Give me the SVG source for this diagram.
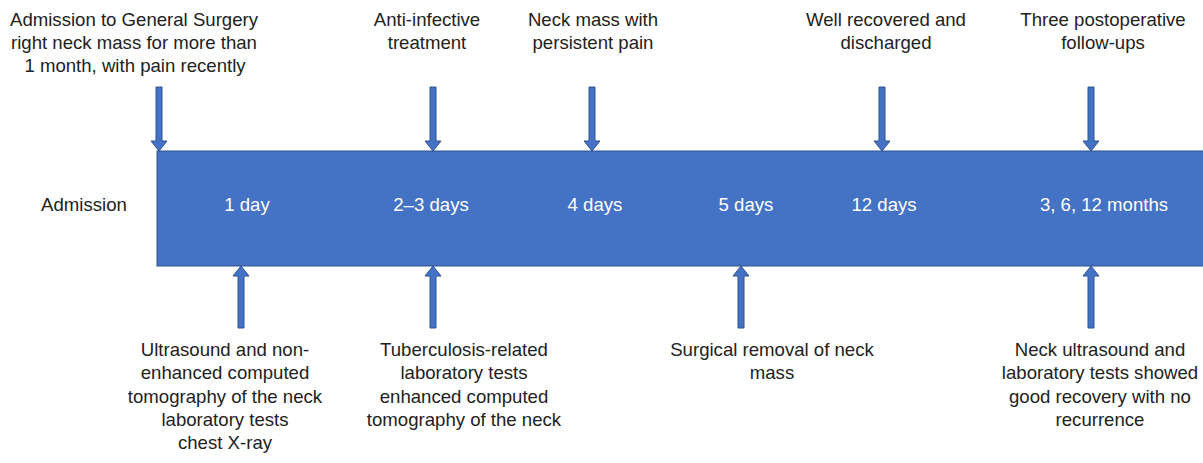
<svg xmlns="http://www.w3.org/2000/svg" width="1203" height="463" viewBox="0 0 1203 463">
<defs>
<style>
text{font-family:"Liberation Sans",Arial,sans-serif;font-size:18.6px;fill:#222;text-anchor:middle}
.w{fill:#fff}
.arr{fill:#4472C4;stroke:#2F528F;stroke-width:1}
</style>
<path id="down" class="arr" d="M-3,0 H3 V54 H8 L0,64 L-8,54 H-3 Z"/>
<path id="up" class="arr" d="M-3,62 H3 V10 H8 L0,0 L-8,10 H-3 Z"/>
</defs>
<g id="bar"><rect x="157" y="151" width="1060" height="115" fill="#4472C4" stroke="#2F528F" stroke-width="1"/></g>
<g id="connectors">
<use href="#down" x="159" y="87"/>
<use href="#down" x="433" y="87"/>
<use href="#down" x="592" y="87"/>
<use href="#down" x="882" y="87"/>
<use href="#down" x="1091" y="87"/>
<use href="#up" x="241" y="266"/>
<use href="#up" x="433" y="266"/>
<use href="#up" x="741" y="266"/>
<use href="#up" x="1091" y="266"/>
</g>
<g id="labels-bar">
<text x="84" y="211">Admission</text>
<text class="w" x="247" y="211">1 day</text>
<text class="w" x="431" y="211">2–3 days</text>
<text class="w" x="595" y="211">4 days</text>
<text class="w" x="746" y="211">5 days</text>
<text class="w" x="884" y="211">12 days</text>
<text class="w" x="1104" y="211">3, 6, 12 months</text>
</g>
<g id="top1"><text x="134" y="26">Admission to General Surgery</text><text x="134" y="49">right neck mass for more than</text><text x="135" y="72">1 month, with pain recently</text></g>
<g id="top2"><text x="427" y="26">Anti-infective</text><text x="427" y="49">treatment</text></g>
<g id="top3"><text x="593" y="26">Neck mass with</text><text x="593" y="49">persistent pain</text></g>
<g id="top4"><text x="886" y="26">Well recovered and</text><text x="886" y="49">discharged</text></g>
<g id="top5"><text x="1103" y="26">Three postoperative</text><text x="1103" y="49">follow-ups</text></g>
<g id="bot1"><text x="225" y="356">Ultrasound and non-</text><text x="225" y="379">enhanced computed</text><text x="225" y="403">tomography of the neck</text><text x="225" y="426">laboratory tests</text><text x="225" y="449">chest X-ray</text></g>
<g id="bot2"><text x="464" y="356">Tuberculosis-related</text><text x="464" y="379">laboratory tests</text><text x="464" y="403">enhanced computed</text><text x="464" y="426">tomography of the neck</text></g>
<g id="bot3"><text x="772" y="356">Surgical removal of neck</text><text x="772" y="379">mass</text></g>
<g id="bot4"><text x="1100" y="356">Neck ultrasound and</text><text x="1100" y="379">laboratory tests showed</text><text x="1100" y="403">good recovery with no</text><text x="1100" y="426">recurrence</text></g>
</svg>
